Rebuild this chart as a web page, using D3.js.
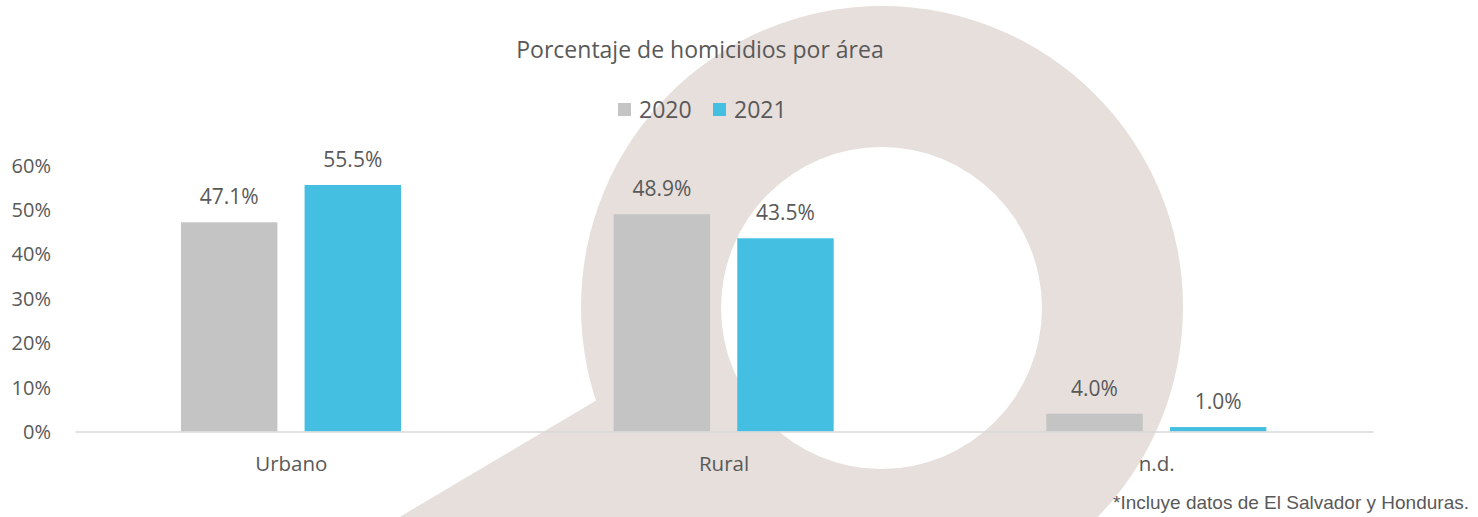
<!DOCTYPE html>
<html>
<head>
<meta charset="utf-8">
<script src="https://cdn.jsdelivr.net/npm/d3@7"></script>
<style>
  html, body { margin: 0; padding: 0; background: #ffffff; }
  svg { display: block; }
</style>
</head>
<body>
<svg id="chart" width="1478" height="517"></svg>
<script>
const title = "Porcentaje de homicidios por área";
const categories = ["Urbano", "Rural", "n.d."];
const seriesNames = ["2020", "2021"];
const values2020 = [47.1, 48.9, 4.0];
const values2021 = [55.5, 43.5, 1.0];
const yTicks = [0, 10, 20, 30, 40, 50, 60];
const footnote = "*Incluye datos de El Salvador y Honduras.";

const colors = { "2020": "#C4C4C4", "2021": "#44BEE1" };
const textColor = "#595959";
const font = "'Open Sans', sans-serif";

const svg = d3.select("#chart");

// Background watermark (ring with tail)
const wm = svg.append("g");
const wmColor = "#E6DFDC";
wm.append("path")
  .attr("d", d3.line()([[597, 400], [300, 576], [950, 760], [1010, 480]]) + "Z")
  .attr("fill", wmColor);
wm.append("ellipse").attr("cx", 882).attr("cy", 307).attr("rx", 301).attr("ry", 301).attr("fill", wmColor);
wm.append("ellipse").attr("cx", 881.5).attr("cy", 308).attr("rx", 160.5).attr("ry", 161).attr("fill", "#ffffff");

// Scales
const x0 = d3.scaleBand().domain(categories).range([75, 1373]).padding(0);
const x1 = d3.scaleBand().domain(seriesNames).range([106, 326]).paddingInner(0.22).paddingOuter(0);
const y = d3.scaleLinear().domain([0, 60]).range([431.5, 165]);

// Title
svg.append("text")
  .attr("x", 700).attr("y", 58)
  .attr("text-anchor", "middle")
  .attr("font-family", font).attr("font-size", 23)
  .attr("fill", textColor)
  .text(title);

// Legend
const legend = svg.append("g");
const legendX = [618, 713];
seriesNames.forEach((s, i) => {
  legend.append("rect").attr("x", legendX[i]).attr("y", 103).attr("width", 13).attr("height", 13).attr("fill", colors[s]);
  legend.append("text").attr("x", legendX[i] + 21).attr("y", 118)
    .attr("font-family", font).attr("font-size", 23).attr("fill", textColor).text(s);
});

// Y axis labels
const yAxis = d3.axisLeft(y).tickValues(yTicks).tickFormat(d => d + "%").tickSize(0).tickPadding(0);
const yg = svg.append("g").attr("transform", "translate(51,0)").call(yAxis);
yg.select(".domain").remove();
yg.selectAll("text").attr("font-family", font).attr("font-size", 20).attr("fill", textColor).attr("dy", "0.35em");

// Bars
const data = categories.map((c, i) => ({ cat: c, vals: [
  { s: "2020", v: values2020[i] },
  { s: "2021", v: values2021[i] }
]}));

const groups = svg.append("g").selectAll("g").data(data).join("g")
  .attr("transform", d => `translate(${x0(d.cat)},0)`);

groups.selectAll("rect").data(d => d.vals).join("rect")
  .attr("x", d => x1(d.s))
  .attr("y", d => y(d.v))
  .attr("width", x1.bandwidth())
  .attr("height", d => y(0) - y(d.v))
  .attr("fill", d => colors[d.s]);

groups.selectAll("text.lbl").data(d => d.vals).join("text")
  .attr("class", "lbl")
  .attr("x", d => x1(d.s) + x1.bandwidth() / 2)
  .attr("y", d => y(d.v) - 18)
  .attr("text-anchor", "middle")
  .attr("font-family", font).attr("font-size", 21)
  .attr("fill", textColor)
  .text(d => d.v.toFixed(1) + "%");

// X axis
const xAxis = d3.axisBottom(x0).tickSize(0).tickPadding(0);
const xg = svg.append("g").attr("transform", `translate(0,${y(0)})`).call(xAxis);
xg.select(".domain").attr("stroke", "#D9D9D9").attr("stroke-width", 1.5);
xg.selectAll("text").attr("font-family", font).attr("font-size", 20.5).attr("fill", textColor).attr("dy", "0").attr("y", 39.5);

// Footnote
svg.append("text")
  .attr("x", 1469).attr("y", 509)
  .attr("text-anchor", "end")
  .attr("font-family", "'Liberation Sans', Arial, sans-serif").attr("font-size", 19)
  .attr("fill", textColor)
  .text(footnote);
</script>
</body>
</html>
